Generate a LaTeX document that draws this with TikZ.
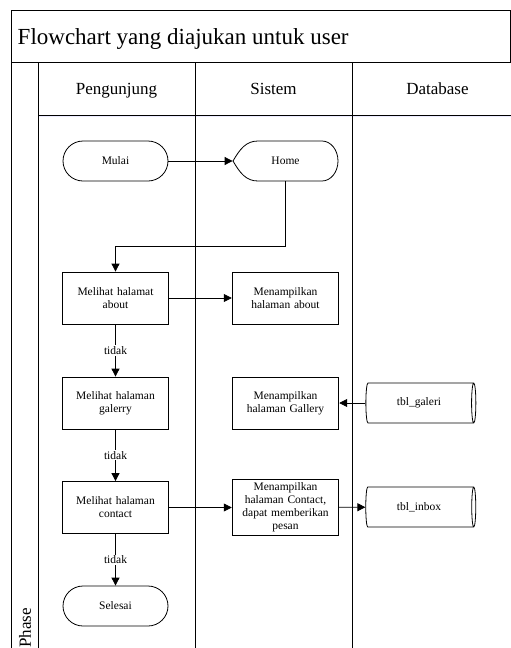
\documentclass[tikz,border=0pt]{standalone}
\usepackage{fontspec}
\setmainfont{Liberation Serif}
\usetikzlibrary{arrows.meta,shapes.geometric}

\begin{document}
\begin{tikzpicture}[x=1pt,y=-1pt,line width=0.8pt,
    arr/.style={-{Triangle[length=8pt,width=8pt]}},
    proc/.style={draw,minimum width=105pt,minimum height=52pt,align=center,
      text width=100pt,font=\fontsize{11.5}{13}\selectfont},
    term/.style={draw,rounded corners=20pt,minimum width=105pt,minimum height=40pt,
      font=\fontsize{11.5}{13}\selectfont},
    tbl/.style={draw,cylinder,shape aspect=0.25,minimum width=40pt,minimum height=110pt,
      font=\fontsize{11.5}{13}\selectfont},
    lbl/.style={fill=white,inner sep=1pt,font=\fontsize{11.5}{13}\selectfont},
    head/.style={anchor=base,font=\fontsize{17}{20}\selectfont}]
            \useasboundingbox (0,0) rectangle (511,648);
            \fill[white] (0,0) rectangle (511,648);
            \draw (11,650) -- (11,10) -- (510,10) -- (510,62);
            \draw (11,62) -- (512,62);
            \draw[blue!8, line width=1.5pt] (39,116.5) -- (512,116.5);
            \draw (38,115) -- (512,115);
            \draw (38,62) -- (38,650);
            \draw (195,62) -- (195,650);
            \draw (352,62) -- (352,650);
            \node[anchor=base west, font=\fontsize{23}{27}\selectfont] (judul) at (14,44) {Flowchart yang diajukan untuk user};
            \node[head] (pengunjung) at (116.5,94) {Pengunjung};
            \node[head] (sistem) at (273.5,94) {Sistem};
            \node[head] (database) at (437.5,94) {Database};
            \node[font=\fontsize{17}{20}\selectfont, rotate=90] (phase) at (25,628) {Phase};
            \node[term] (mulai) at (115.5,161) {Mulai};
            \draw (233,161) .. controls (240,149) and (246,141) .. (258,141) -- (322,141)
                  arc[start angle=90, end angle=-90, x radius=16, y radius=-20]
                  -- (258,181) .. controls (246,181) and (240,173) .. (233,161);
            \node[minimum width=105pt, minimum height=40pt, font=\fontsize{11.5}{13}\selectfont] (home) at (285.5,161) {Home};
            \node[proc] (about) at (115.5,298) {Melihat halamat\\about};
            \node[proc] (aboutS) at (285.5,298) {Menampilkan\\halaman about};
            \node[proc] (galeri) at (115.5,403) {Melihat halaman\\galerry};
            \node[proc] (galeriS) at (285.5,403) {Menampilkan\\halaman Gallery};
            \node[proc] (contact) at (115.5,507.5) {Melihat halaman\\contact};
            \node[proc] (contactS) at (285.5,507.5) {Menampilkan\\halaman Contact,\\dapat memberikan\\pesan};
            \node[term] (selesai) at (115.5,606) {Selesai};
            \node[tbl] (tblgaleri) at (419,403) {tbl\_galeri};
            \node[tbl] (tblinbox) at (419,507) {tbl\_inbox};
            \draw[arr] (mulai) -- (home.west);
            \draw[arr] (home.south) -- ++(0,65) -| (about.north);
            \draw[arr] (about) -- (aboutS);
            \draw[arr] (about) -- node[lbl] {tidak} (galeri);
            \draw[arr] (galeri) -- node[lbl] {tidak} (contact);
            \draw[arr] (contact) -- node[lbl] {tidak} (selesai);
            \draw[arr] (tblgaleri) -- (galeriS);
            \draw[arr] (contact) -- (contactS);
            \draw[arr] (contactS) -- (tblinbox);
        \end{tikzpicture}
\end{document}
